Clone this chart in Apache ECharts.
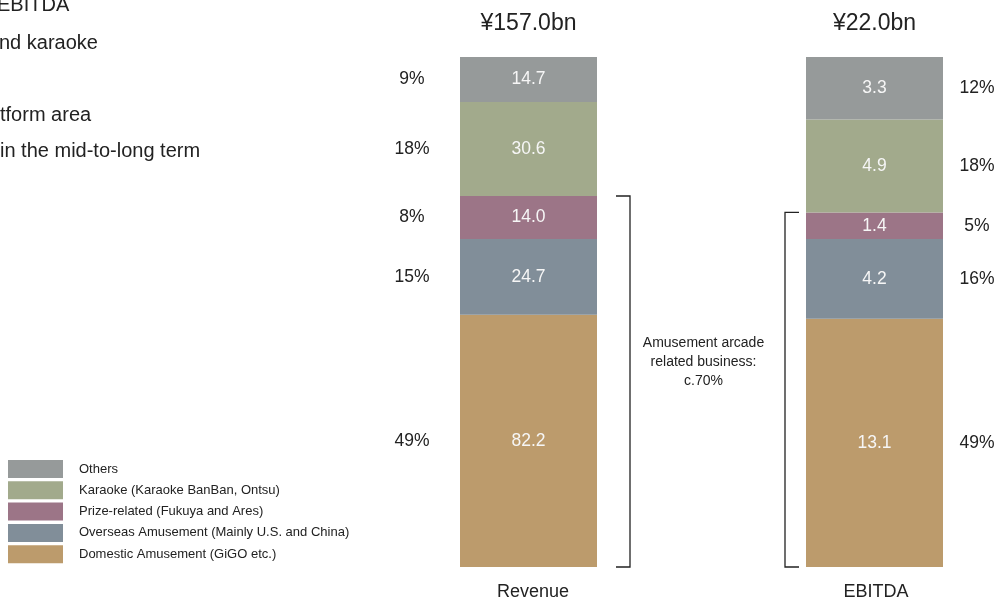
<!DOCTYPE html>
<html><head><meta charset="utf-8">
<script src="https://cdn.jsdelivr.net/npm/echarts@6/dist/echarts.min.js"></script>
<style>html,body{margin:0;padding:0;background:#fff}#c{width:1005px;height:602px}</style>
</head><body><div id="c"></div>
<script>
// ---- data ----
const bars = ['Revenue', 'EBITDA'];
const totals = ['¥157.0bn', '¥22.0bn'];
const segments = ['Domestic Amusement (GiGO etc.)', 'Overseas Amusement (Mainly U.S. and China)', 'Prize-related (Fukuya and Ares)', 'Karaoke (Karaoke BanBan, Ontsu)', 'Others'];
const revenueValues = [82.2, 24.7, 14.0, 30.6, 14.7];
const ebitdaValues = [13.1, 4.2, 1.4, 4.9, 3.3];
const revenueShares = ['49%', '15%', '8%', '18%', '9%'];
const ebitdaShares = ['49%', '16%', '5%', '18%', '12%'];
const legendOrder = ['Others', 'Karaoke (Karaoke BanBan, Ontsu)', 'Prize-related (Fukuya and Ares)', 'Overseas Amusement (Mainly U.S. and China)', 'Domestic Amusement (GiGO etc.)'];
const bracketNote = 'Amusement arcade\nrelated business:\nc.70%';
const sideText = ['EBITDA', 'nd karaoke', 'tform area', 'in the mid-to-long term'];
// ---- styles ----
const colors = ['#bc9b6c', '#818e99', '#9c7587', '#a2aa8c', '#969a9a'];
const FONT = '"Liberation Sans", Arial, sans-serif';
const allValues = [revenueValues, ebitdaValues];
const allShares = [revenueShares, ebitdaShares];
const pctOffset = [-48, 171];
const catPad = [[0, 0, 0, 9], [0, 0, 0, 3]];

const chart = echarts.init(document.getElementById('c'), null, {renderer: 'canvas'});
const grids = [
  {left: 460, width: 137, top: 57, bottom: 35},
  {left: 806, width: 137, top: 57, bottom: 35}
];
const xAxes = bars.map((b, g) => ({
  type: 'category', gridIndex: g, data: [b],
  axisLine: {show: false}, axisTick: {show: false},
  axisLabel: {color: '#222', fontSize: 18, fontFamily: FONT, margin: 16, padding: catPad[g]}
}));
const yAxes = bars.map((b, g) => ({
  type: 'value', gridIndex: g, min: 0, max: 'dataMax', show: false, splitLine: {show: false}
}));
const series = [];
bars.forEach((b, g) => {
  segments.forEach((s, i) => {
    series.push({
      name: s, type: 'bar', xAxisIndex: g, yAxisIndex: g, stack: 'v' + g,
      barWidth: '100%', data: [allValues[g][i]],
      itemStyle: {color: colors[i]},
      label: {show: true, position: 'inside', color: '#f6f6f6', fontSize: 17.5, fontFamily: FONT,
        formatter: p => p.value.toFixed(1)},
      emphasis: {disabled: true}
    });
  });
  segments.forEach((s, i) => {
    series.push({
      name: 'pct' + g + '_' + i, type: 'bar', xAxisIndex: g, yAxisIndex: g, stack: 'p' + g,
      barWidth: '100%', barGap: '-100%', data: [allValues[g][i]], silent: true,
      itemStyle: {color: 'rgba(0,0,0,0)'},
      label: {show: true, position: [pctOffset[g], '50%'], align: 'center', verticalAlign: 'middle',
        color: '#222', fontSize: 17.5, fontFamily: FONT, formatter: () => allShares[g][i]},
      emphasis: {disabled: true}
    });
  });
});

const option = {
  animation: false,
  backgroundColor: '#fff',
  textStyle: {fontFamily: FONT},
  title: bars.map((b, g) => ({
    text: totals[g], left: grids[g].left + grids[g].width / 2 - 5, textAlign: 'center', top: 7,
    textStyle: {fontSize: 23, fontWeight: 'normal', color: '#222', fontFamily: FONT}
  })),
  legend: {
    data: legendOrder, orient: 'vertical', left: 3, top: 455,
    itemWidth: 55, itemHeight: 18, itemGap: 3.3, icon: 'rect',
    textStyle: {fontSize: 13, color: '#222', fontFamily: FONT, padding: [0, 0, 0, 11]},
    selectedMode: false
  },
  grid: grids, xAxis: xAxes, yAxis: yAxes, series: series
};
chart.setOption(option);

// brackets derived from the axes
function px(g, v) { return chart.convertToPixel({xAxisIndex: g, yAxisIndex: g}, [bars[g], v]); }
const graphics = [];
const lineStyle = {stroke: '#222', lineWidth: 1.3};
const rTop = px(0, revenueValues[0] + revenueValues[1] + revenueValues[2])[1];
const rBot = px(0, 0)[1];
const rRight = grids[0].left + grids[0].width;
const rx = rRight + 33;
graphics.push({type: 'polyline', shape: {points: [[rx - 14, rTop], [rx, rTop], [rx, rBot], [rx - 14, rBot]]}, style: Object.assign({fill: null}, lineStyle), silent: true});
const eTop = px(1, ebitdaValues[0] + ebitdaValues[1] + ebitdaValues[2])[1];
const eBot = px(1, 0)[1];
const ex = grids[1].left - 21;
graphics.push({type: 'polyline', shape: {points: [[ex + 14, eTop], [ex, eTop], [ex, eBot], [ex + 14, eBot]]}, style: Object.assign({fill: null}, lineStyle), silent: true});
graphics.push({type: 'text', x: (rx + ex) / 2 - 4, y: 334, style: {text: bracketNote, fill: '#222', font: '14px ' + FONT, align: 'center', lineHeight: 19}, silent: true});
// cropped slide text at top-left
const sideY = [-5, 33, 105, 141];
const sideX = [-3, -1, 0, 0];
sideText.forEach((t, i) => {
  graphics.push({type: 'text', x: sideX[i], y: sideY[i], style: {text: t, fill: '#222', font: '20px ' + FONT}, silent: true});
});
chart.setOption({graphic: graphics});
</script></body></html>
